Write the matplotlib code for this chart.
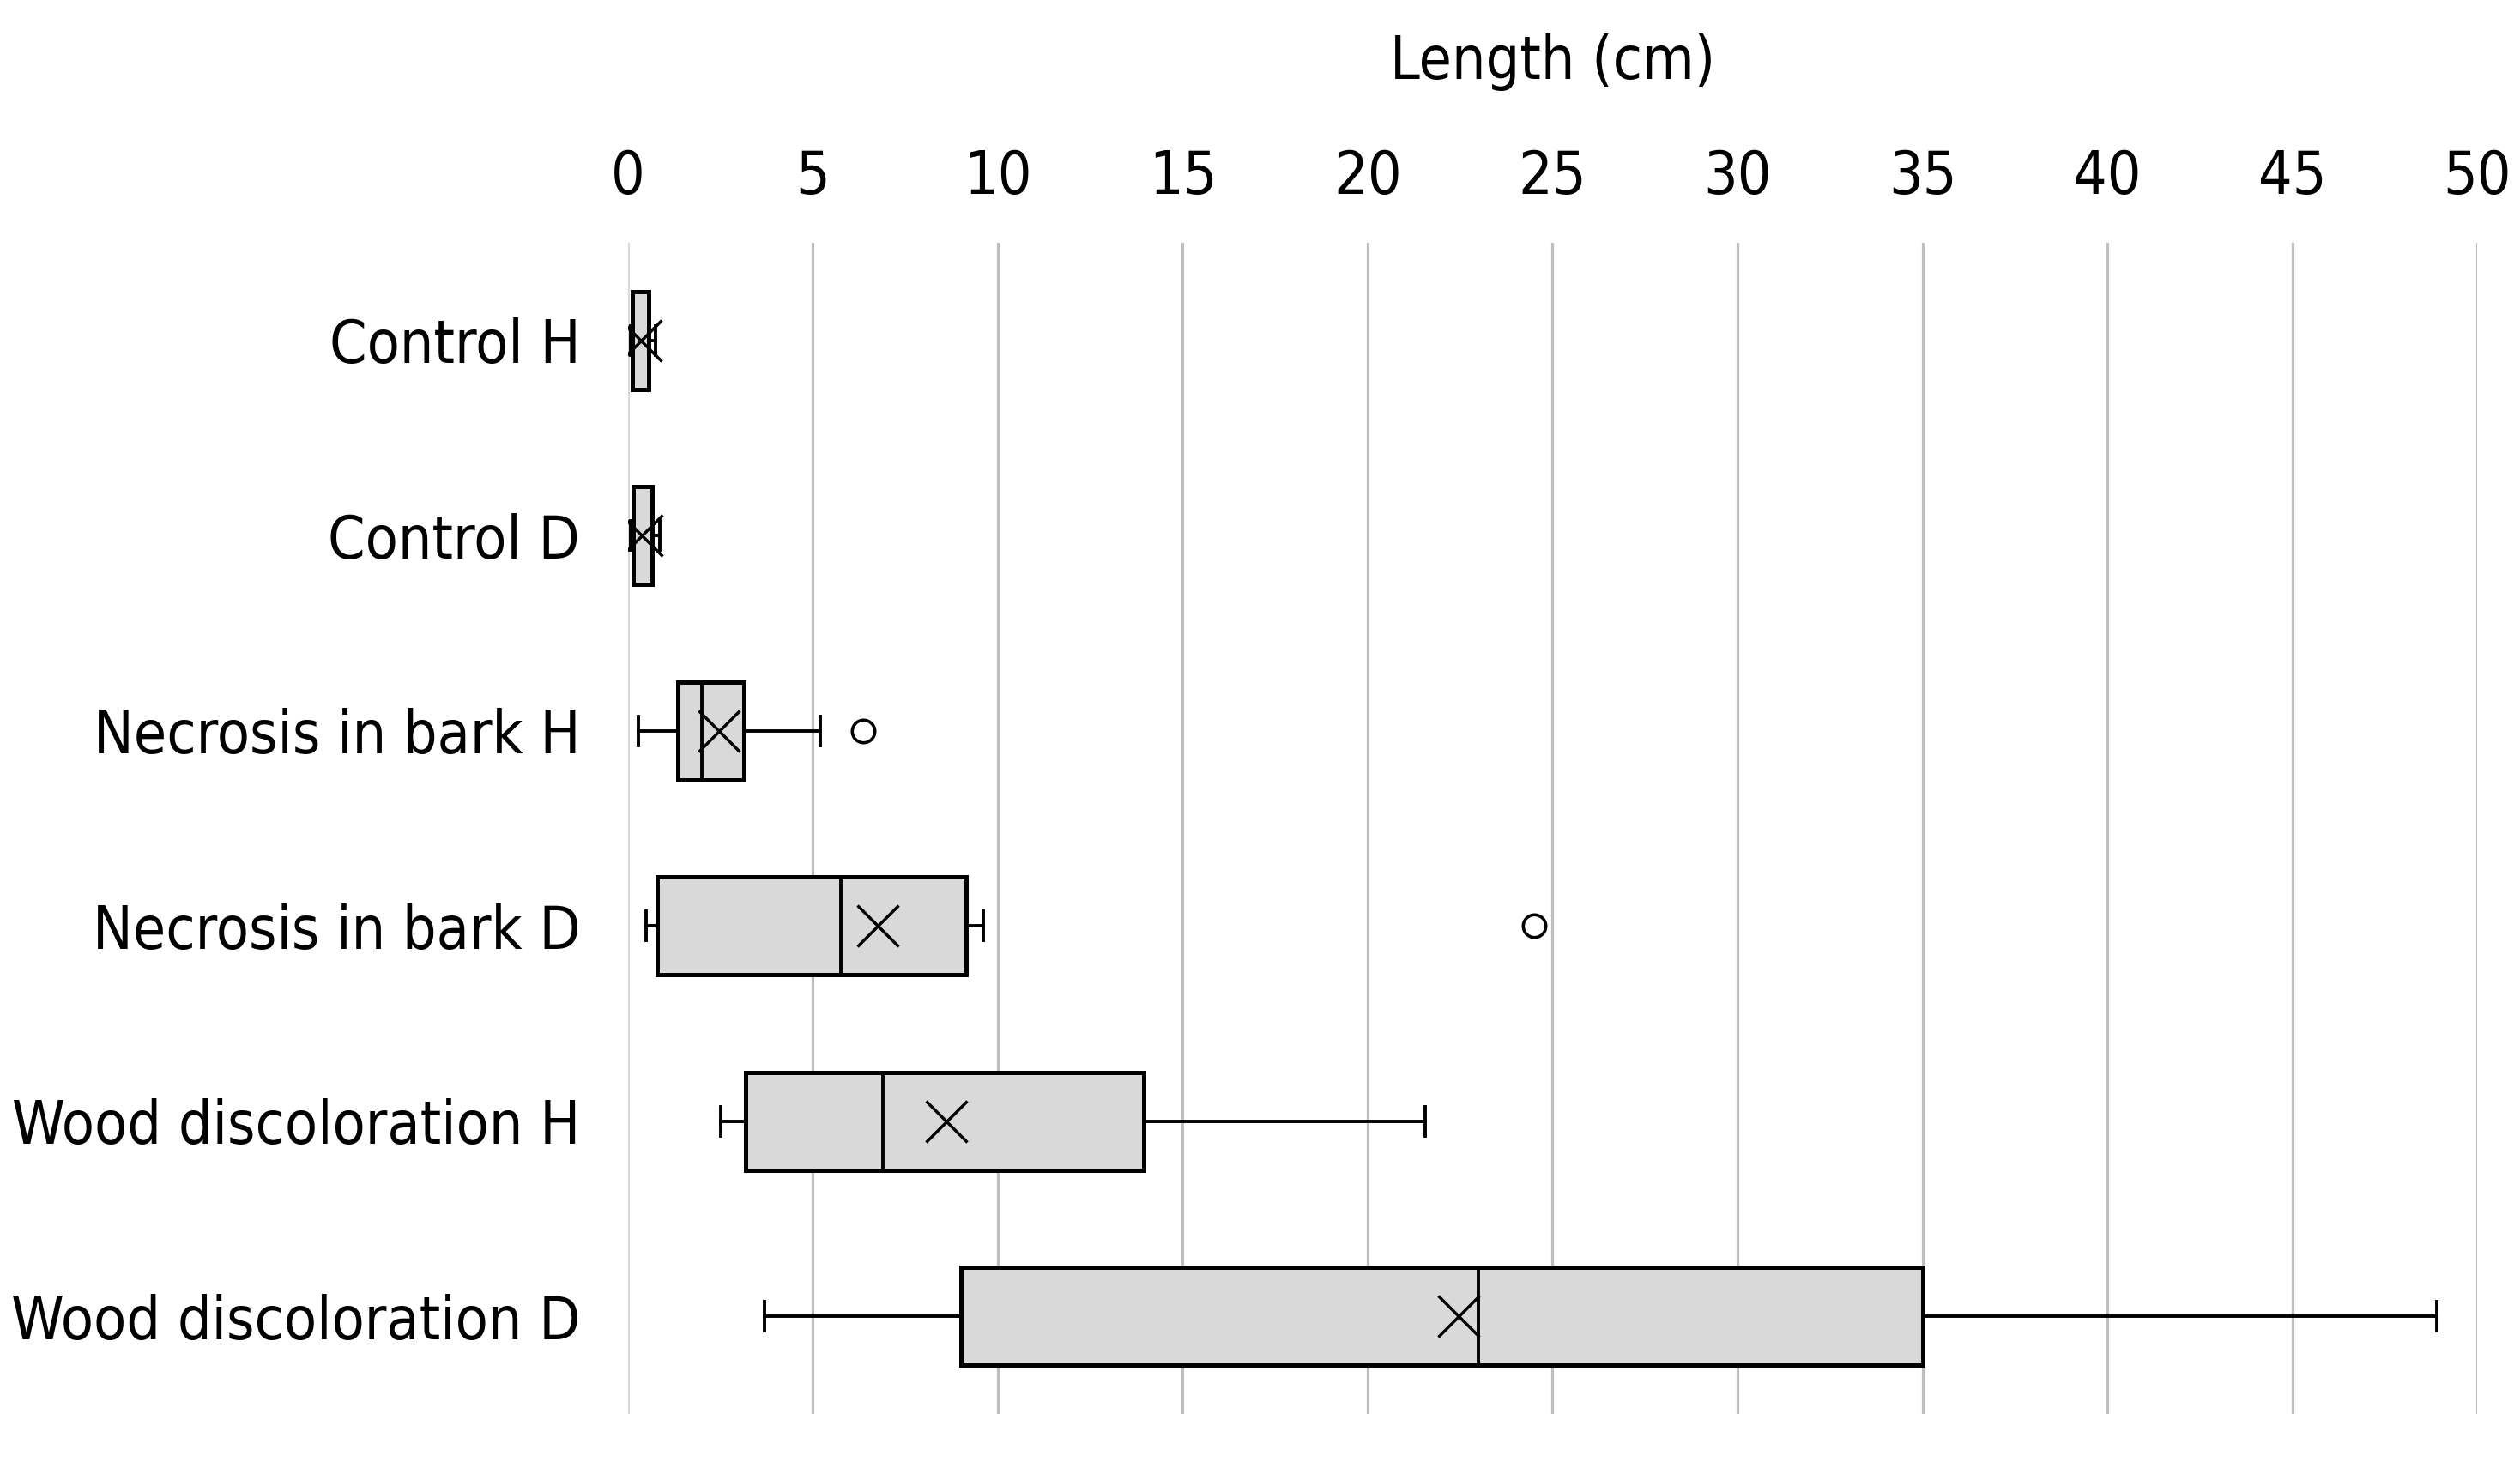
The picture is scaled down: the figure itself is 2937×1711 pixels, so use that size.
import matplotlib.pyplot as plt

categories = ["Control H", "Control D", "Necrosis in bark H", "Necrosis in bark D",
              "Wood discoloration H", "Wood discoloration D"]
q1 = [0.11, 0.15, 1.35, 0.80, 3.18, 9.00]
median = [0.12, 0.16, 2.00, 5.75, 6.90, 23.00]
q3 = [0.56, 0.65, 3.13, 9.15, 13.95, 35.00]
mean = [0.34, 0.37, 2.47, 6.75, 8.60, 22.45]
whislo = [0.07, 0.07, 0.29, 0.50, 2.50, 3.70]
whishi = [0.75, 0.85, 5.19, 9.60, 21.56, 48.90]
fliers = [[], [], [6.37], [24.5], [], []]
xticks = [0, 5, 10, 15, 20, 25, 30, 35, 40, 45, 50]

plt.rcParams['font.family'] = 'DejaVu Sans'
plt.rcParams['font.stretch'] = 'condensed'
fs = 50

stats = []
for i in range(len(categories)):
    stats.append({'label': categories[i], 'q1': q1[i], 'med': median[i], 'q3': q3[i],
                  'mean': mean[i], 'whislo': whislo[i], 'whishi': whishi[i],
                  'fliers': fliers[i]})

fig = plt.figure(figsize=(29.37, 17.11), dpi=100)
ax = fig.add_axes([0.2492, 0.0368, 0.9830 - 0.2492, 0.8346 - 0.0368])

ax.bxp(stats, positions=range(len(categories)), vert=False, widths=0.5,
       showmeans=True, patch_artist=True, capwidths=0.15,
       boxprops=dict(facecolor='#d9d9d9', edgecolor='black', linewidth=3.6),
       medianprops=dict(color='black', linewidth=2.8),
       whiskerprops=dict(color='black', linewidth=2.8),
       capprops=dict(color='black', linewidth=2.8),
       meanprops=dict(marker='x', markersize=34, markeredgecolor='black',
                      markeredgewidth=2.5),
       flierprops=dict(marker='o', markersize=19, markerfacecolor='none',
                       markeredgecolor='black', markeredgewidth=2.6),
       zorder=3)

ax.set_xlim(0, 50)
ax.set_ylim(5.5, -0.5)
ax.set_xticks(xticks)
ax.set_xticklabels([str(t) for t in xticks], fontsize=fs)
ax.set_yticks(range(len(categories)))
ax.set_yticklabels(categories, fontsize=fs)
ax.xaxis.tick_top()
ax.xaxis.set_label_position('top')
ax.set_xlabel('Length (cm)', fontsize=fs, labelpad=58)
ax.tick_params(axis='x', length=0, pad=31)
ax.tick_params(axis='y', length=0, pad=40)

for s in ax.spines.values():
    s.set_visible(False)
ax.grid(axis='x', color='#bfbfbf', linewidth=2.3, zorder=0)
ax.grid(axis='y', visible=False)
ax.get_xgridlines()[0].set_color('#d9d9d9')

plt.savefig('out.png', dpi=100)
